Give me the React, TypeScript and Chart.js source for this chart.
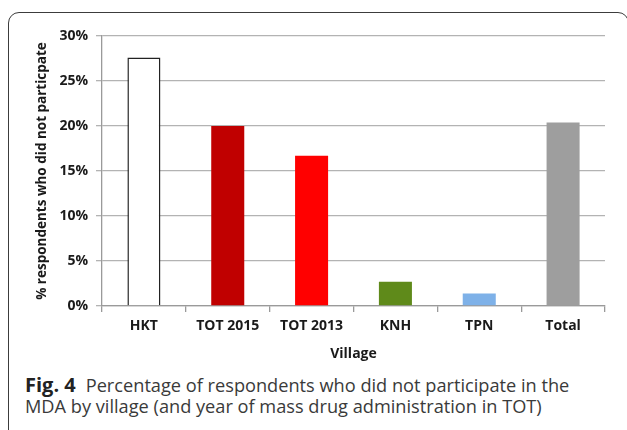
import React, { useEffect, useRef } from "react";
import { Chart, registerables } from "chart.js";

Chart.register(...registerables);

const categories = ["HKT", "TOT 2015", "TOT 2013", "KNH", "TPN", "Total"];
const values = [27.6, 20.0, 16.7, 2.7, 1.4, 20.4];
const barColors = ["#ffffff", "#c00000", "#ff0000", "#5f8a1a", "#7eb1e8", "#9e9e9e"];
const barBorderColors = ["#222222", "#c00000", "#ff0000", "#5f8a1a", "#7eb1e8", "#9e9e9e"];
const barBorderWidths = [1.5, 0, 0, 0, 0, 0];
const yTicks = [0, 5, 10, 15, 20, 25, 30];
const yTitle = "% respondents who did not particpate";
const xTitle = "Village";

export default function App() {
  const canvasRef = useRef<HTMLCanvasElement | null>(null);

  useEffect(() => {
    if (!canvasRef.current) return;
    const font = "'Open Sans', sans-serif";
    const chart = new Chart(canvasRef.current, {
      type: "bar",
      data: {
        labels: categories,
        datasets: [
          {
            data: values,
            backgroundColor: barColors,
            borderColor: barBorderColors,
            borderWidth: barBorderWidths,
            barPercentage: 0.394,
            categoryPercentage: 1,
          },
        ],
      },
      options: {
        responsive: false,
        animation: false,
        devicePixelRatio: 1,
        layout: { padding: { top: 36, right: 22, left: 0, bottom: 0 } },
        plugins: { legend: { display: false }, tooltip: { enabled: false } },
        scales: {
          x: {
            afterFit: (s: any) => {
              s.height = 64;
            },
            grid: {
              drawOnChartArea: false,
              drawTicks: true,
              tickLength: 6,
              color: "#9a9a9a",
              lineWidth: 1.3,
            },
            border: { display: true, color: "#9a9a9a", width: 1.3 },
            ticks: {
              color: "#1a1a1a",
              padding: 6,
              font: { family: font, size: 14, weight: "bold" },
            },
            title: {
              display: true,
              text: xTitle,
              color: "#1a1a1a",
              padding: { top: 0, bottom: 8 },
              font: { family: font, size: 14, weight: "bold" },
            },
          },
          y: {
            min: 0,
            max: 30,
            afterFit: (s: any) => {
              s.width = 102;
            },
            afterBuildTicks: (s: any) => {
              s.ticks = yTicks.map((v) => ({ value: v }));
            },
            grid: {
              color: "#b3b3b3",
              lineWidth: 1.3,
              tickLength: 6,
            },
            border: { display: true, color: "#9a9a9a", width: 1.3 },
            ticks: {
              color: "#1a1a1a",
              padding: 8,
              font: { family: font, size: 14, weight: "bold" },
              callback: (v: any) => v + "%",
            },
            title: {
              display: true,
              text: yTitle,
              color: "#1a1a1a",
              padding: { top: 34, bottom: 0 },
              font: { family: font, size: 13.5, weight: "bold" },
            },
          },
        },
      },
    });
    return () => chart.destroy();
  }, []);

  return (
    <div
      style={{
        position: "fixed",
        left: 0,
        top: 0,
        width: 627,
        height: 430,
        overflow: "hidden",
        background: "#ffffff",
      }}
    >
      <div
        style={{
          position: "absolute",
          left: 8,
          top: 12,
          width: 621,
          height: 430,
          boxSizing: "border-box",
          border: "1.5px solid #3c3c3c",
          borderRadius: 11,
        }}
      />
      <canvas
        ref={canvasRef}
        width={627}
        height={370}
        style={{ position: "absolute", left: 0, top: 0, width: 627, height: 370 }}
      />
      <div
        style={{
          position: "absolute",
          left: 25,
          top: 374,
          fontFamily: "'Open Sans', sans-serif",
          fontSize: 18.2,
          lineHeight: "21.3px",
          color: "#3a3a3a",
          whiteSpace: "nowrap",
        }}
      >
        <span style={{ fontWeight: 700, color: "#222", fontSize: 20, marginRight: 10 }}>Fig. 4</span>
        {"Percentage of respondents who did not participate in the"}
        <br />
        MDA by village (and year of mass drug administration in TOT)
      </div>
    </div>
  );
}
